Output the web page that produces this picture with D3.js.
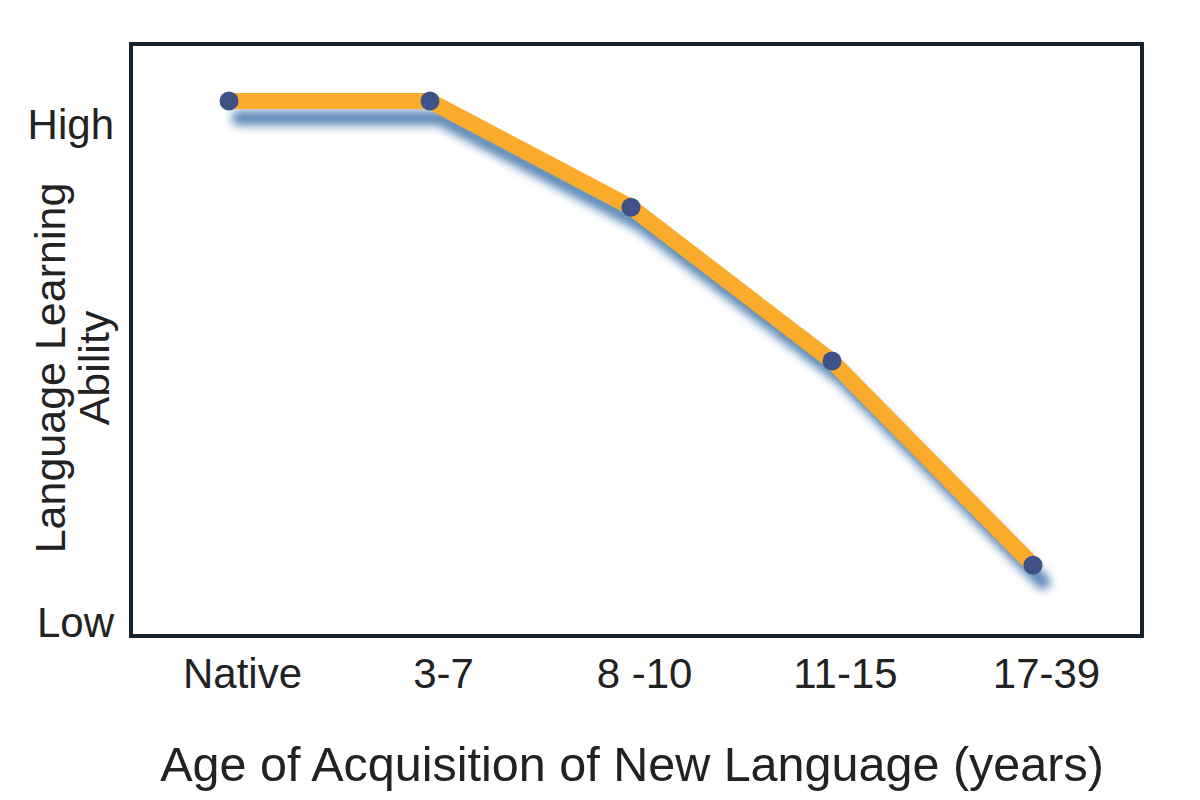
<!DOCTYPE html>
<html>
<head>
<meta charset="utf-8">
<script src="https://cdn.jsdelivr.net/npm/d3@7"></script>
<style>
  html, body { margin: 0; padding: 0; background: #fff; }
  svg { display: block; font-family: "Liberation Sans", Arial, Helvetica, sans-serif; }
</style>
</head>
<body>
<div id="chart"></div>
<script>
// age groups along the x axis
const categories = ['Native', '3-7', '8 -10', '11-15', '17-39']
// relative ability, 0 = "Low" tick, 100 = "High" tick
const ability = [104.6, 104.6, 83.3, 52.4, 11.4]
const yTicks = [{ v: 100, label: 'High' }, { v: 0, label: 'Low' }]
const yTitle = ['Language Learning', 'Ability']
const xTitle = 'Age of Acquisition of New Language (years)'

const W = 1200, H = 800
const box = { left: 131, top: 44, right: 1142, bottom: 636 }

const svg = d3.select('#chart').append('svg').attr('width', W).attr('height', H)

const x = d3.scalePoint().domain(categories).range([229, 1033])
const y = d3.scaleLinear().domain([0, 100]).range([622, 124])

const data = categories.map((c, i) => ({ cat: c, value: ability[i] }))

const defs = svg.append('defs')
defs.append('filter').attr('id', 'blur')
  .attr('x', '-10%').attr('y', '-10%').attr('width', '120%').attr('height', '130%')
  .append('feGaussianBlur').attr('stdDeviation', 5)

// frame
svg.append('rect')
  .attr('x', box.left).attr('y', box.top)
  .attr('width', box.right - box.left).attr('height', box.bottom - box.top)
  .attr('fill', '#fff').attr('stroke', '#18232e').attr('stroke-width', 4)

const line = d3.line().x(d => x(d.cat)).y(d => y(d.value))

// soft blue shadow under the curve
svg.append('path')
  .datum(data)
  .attr('transform', 'translate(10,17)')
  .attr('fill', 'none')
  .attr('stroke', '#4a7cae')
  .attr('stroke-width', 15)
  .attr('stroke-linecap', 'round')
  .attr('stroke-linejoin', 'round')
  .attr('opacity', 0.9)
  .attr('filter', 'url(#blur)')
  .attr('d', line)

svg.append('path')
  .datum(data)
  .attr('fill', 'none')
  .attr('stroke', '#fbab2b')
  .attr('stroke-width', 16)
  .attr('stroke-linejoin', 'round')
  .attr('d', line)

svg.selectAll('.pt')
  .data(data)
  .join('circle')
  .attr('class', 'pt')
  .attr('cx', d => x(d.cat))
  .attr('cy', d => y(d.value))
  .attr('r', 9.5)
  .attr('fill', '#3f5287')

// y tick labels
svg.selectAll('.ytick')
  .data(yTicks)
  .join('text')
  .attr('class', 'ytick')
  .attr('x', 114)
  .attr('y', d => y(d.v))
  .attr('dy', '0.36em')
  .attr('text-anchor', 'end')
  .attr('font-size', 42)
  .attr('fill', '#222')
  .text(d => d.label)

// x tick labels
const xAxis = svg.append('g')
  .attr('transform', `translate(0,${box.bottom})`)
  .call(d3.axisBottom(x).tickSize(0).tickPadding(22))
xAxis.select('.domain').remove()
xAxis.selectAll('text')
  .attr('font-size', 42)
  .attr('fill', '#222')
  .attr('font-family', '"Liberation Sans", Arial, sans-serif')
  .attr('dx', 13)

// axis titles
svg.append('g')
  .attr('transform', 'translate(50,368) rotate(-90)')
  .selectAll('text')
  .data(yTitle)
  .join('text')
  .attr('x', 0)
  .attr('y', (d, i) => i * 44)
  .attr('dy', '0.36em')
  .attr('text-anchor', 'middle')
  .attr('font-size', 43)
  .attr('fill', '#222')
  .text(d => d)

svg.append('text')
  .attr('x', 632)
  .attr('y', 781)
  .attr('text-anchor', 'middle')
  .attr('font-size', 48.5)
  .attr('fill', '#222')
  .text(xTitle)
</script>
</body>
</html>
